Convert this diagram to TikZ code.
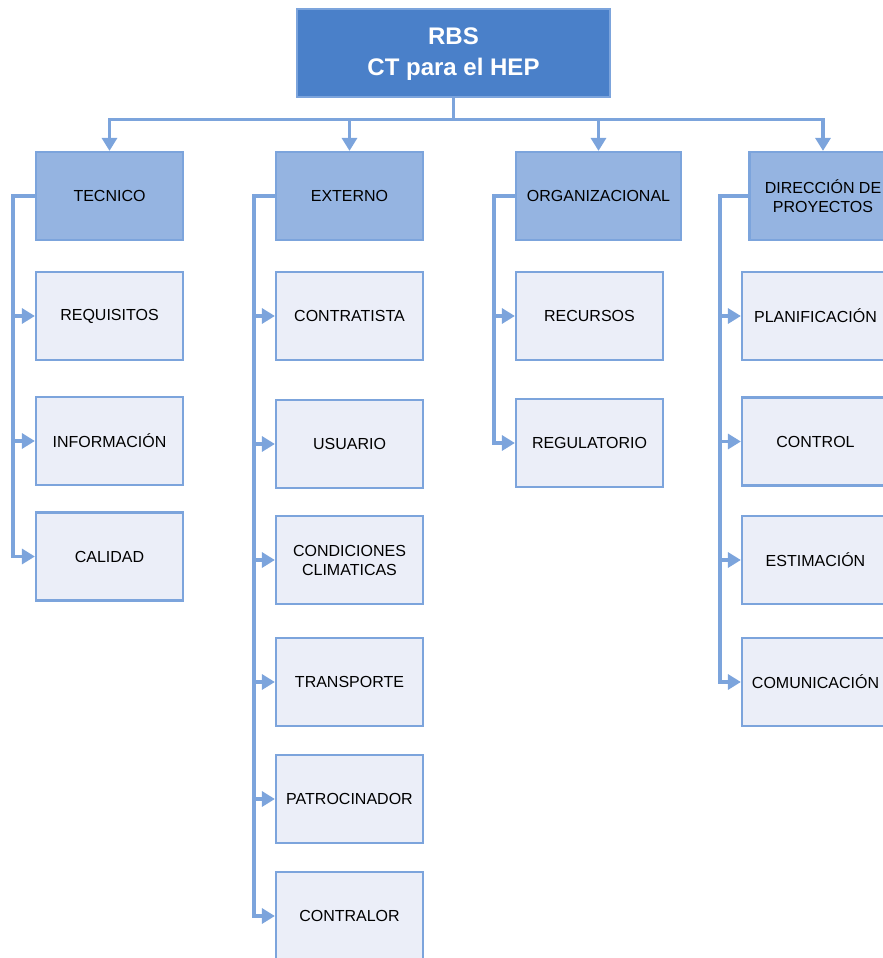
\documentclass[tikz,border=0pt]{standalone}
\usepackage{fontspec}
\setmainfont{Liberation Sans}
\usetikzlibrary{arrows.meta}

\definecolor{rootfill}{HTML}{4A80C9}
\definecolor{edgeblue}{HTML}{7CA4DC}
\definecolor{catfill}{HTML}{95B4E1}
\definecolor{leaffill}{HTML}{EBEEF8}

\tikzset{
  box/.style={draw=edgeblue, line width=2.2pt, minimum width=147pt, minimum height=88pt,
    align=center, inner sep=2pt, text=black, font=\fontsize{16}{19}\selectfont},
  rootbox/.style={box, fill=rootfill, minimum width=313pt, text=white,
    font=\fontsize{24}{31}\selectfont\bfseries},
  catbox/.style={box, fill=catfill},
  leafbox/.style={box, fill=leaffill},
  link/.style={draw=edgeblue, line width=3.2pt},
  arr/.style={link, -{Triangle[length=13pt,width=15pt]}}
}

\begin{document}
\begin{tikzpicture}[x=1pt,y=-1pt]
  \useasboundingbox (0,0) rectangle (883,958);
  \clip (0,0) rectangle (883,958);

  % root
  \node[rootbox, text depth=0pt] (rbs) at (453.5,53) {};
  \node[text=white, font=\fontsize{24}{31}\selectfont\bfseries, align=center]
    (rbstxt) at (453.5,54) {RBS\\CT para el HEP};

  % categories
  \node[catbox] (tec) at (109.5,196) {TECNICO};
  \node[catbox] (ext) at (349.5,196) {EXTERNO};
  \node[catbox, minimum width=165pt] (org) at (598.5,196) {ORGANIZACIONAL};
  \node[catbox] (dir) at (823,196) {DIRECCIÓN DE\\PROYECTOS};

  % TECNICO items
  \node[leafbox] (req) at (109.5,316) {REQUISITOS};
  \node[leafbox] (inf) at (109.5,441) {INFORMACIÓN};
  \node[leafbox] (cal) at (109.5,556.5) {CALIDAD};

  % EXTERNO items
  \node[leafbox] (con) at (349.5,316) {CONTRATISTA};
  \node[leafbox] (usu) at (349.5,444) {USUARIO};
  \node[leafbox] (cli) at (349.5,560) {CONDICIONES\\CLIMATICAS};
  \node[leafbox] (tra) at (349.5,682) {TRANSPORTE};
  \node[leafbox] (pat) at (349.5,799) {PATROCINADOR};
  \node[leafbox] (ctl) at (349.5,916) {CONTRALOR};

  % ORGANIZACIONAL items
  \node[leafbox] (rec) at (589.5,316) {RECURSOS};
  \node[leafbox] (reg) at (589.5,443) {REGULATORIO};

  % DIRECCION DE PROYECTOS items
  \node[leafbox] (pla) at (815.5,316) {PLANIFICACIÓN};
  \node[leafbox] (ctr) at (815.5,441.5) {CONTROL};
  \node[leafbox] (est) at (815.5,560) {ESTIMACIÓN};
  \node[leafbox] (com) at (815.5,682) {COMUNICACIÓN};

  % root to categories
  \foreach \c in {tec,ext,org,dir}
    \draw[arr] (rbs.south) -- ++(0,21) -| (\c.north);

  % side buses
  \coordinate (tecbus) at (13,196);
  \coordinate (extbus) at (254,196);
  \coordinate (orgbus) at (494,196);
  \coordinate (dirbus) at (720,196);

  \foreach \c in {req,inf,cal}
    \draw[arr] (tec.west) -- (tecbus) |- (\c.west);
  \foreach \c in {con,usu,cli,tra,pat,ctl}
    \draw[arr] (ext.west) -- (extbus) |- (\c.west);
  \foreach \c in {rec,reg}
    \draw[arr] (org.west) -- (orgbus) |- (\c.west);
  \foreach \c in {pla,ctr,est,com}
    \draw[arr] (dir.west) -- (dirbus) |- (\c.west);
\end{tikzpicture}
\end{document}
